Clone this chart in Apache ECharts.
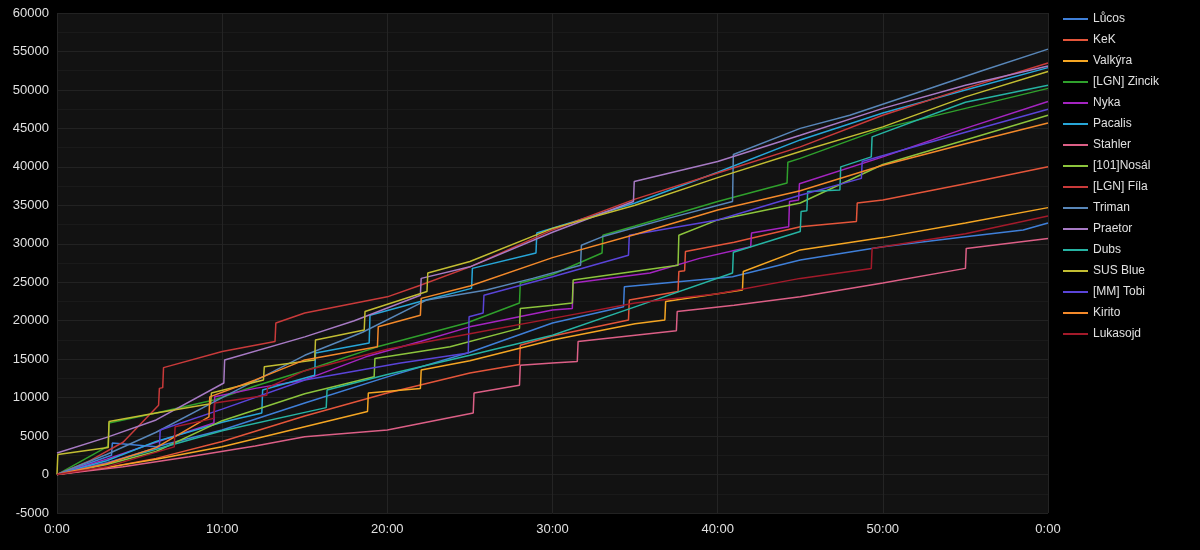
<!DOCTYPE html>
<html>
<head>
<meta charset="utf-8">
<script src="https://cdn.jsdelivr.net/npm/echarts@6/dist/echarts.min.js"></script>
<style>
html,body{margin:0;padding:0;background:#000;}
#chart{width:1200px;height:550px;}
</style>
</head>
<body>
<div id="chart"></div>
<script>
// Player names (legend order) and colours
const names = ["Lůcos","KeK","Valkýra","[LGN] Zincik","Nyka","Pacalis","Stahler","[101]Nosál","[LGN] Fíla","Triman","Praetor","Dubs","SUS Blue","[MM] Tobi","Kirito","Lukasojd"];
const colors = ["#3f7fd8","#e4553a","#f5a623","#2fa02c","#a424c0","#27a6d8","#dc5f86","#8cc43c","#c93a3a","#5886b8","#a77ac4","#26b3a3","#c2bd32","#5a44d8","#f3892a","#a31a2a"];

// [minute, gold]
const lucos = [[0,0],[3.3,2500],[3.35,4100],[6,3600],[10,5800],[15,9300],[20,12700],[25,15900],[30,19700],[34.3,21800],[34.35,24400],[40.9,25700],[45,27900],[50,29600],[55,30900],[58.5,31800],[60,32700]];
const kek = [[0,0],[3,900],[6,2100],[10,4300],[15,7600],[20,10600],[25,13200],[28,14300],[28.05,16800],[30,18000],[34.6,20100],[34.65,22700],[37.6,23800],[37.65,26400],[38,26500],[38.05,29000],[41,30200],[45,32200],[48.4,32900],[48.45,35300],[50,35700],[55,37800],[60,40000]];
const valkyra = [[0,0],[3,900],[6,2000],[10,3600],[15,6200],[18.8,8200],[18.85,10600],[22,11200],[22.05,13600],[25,14800],[30,17500],[35,19600],[36.8,20100],[36.85,22500],[40,23500],[41.5,24000],[41.55,26400],[45,29200],[50,30800],[55,32700],[60,34700]];
const zincik = [[0,0],[3.1,3700],[3.15,6700],[6,8000],[9.5,9700],[12,11500],[15,13500],[19.4,16600],[24.8,19700],[28,22300],[28.05,24900],[30,26000],[33,28800],[33.05,31100],[35,32300],[40,35500],[44.2,37900],[44.25,40600],[45,41100],[50,45000],[55,47600],[60,50200]];
const nyka = [[0,0],[3,2000],[6,4200],[9.5,6700],[9.55,10100],[12,11200],[15,12300],[18.7,15300],[22,17300],[25,19200],[30,21400],[31.2,21600],[31.25,24900],[35.9,26200],[38.9,28100],[42,29600],[42.05,31400],[44.3,32200],[44.35,35500],[44.9,35700],[44.95,37800],[50,41300],[55,45000],[60,48500]];
const pacalis = [[0,0],[3,1800],[6,4300],[10,6800],[12.4,8000],[12.45,11000],[15.6,12900],[15.65,15800],[18.9,17100],[18.95,20700],[22,22500],[25.1,24200],[25.15,26800],[29,28800],[29.05,31400],[35,35300],[40,39300],[45,43500],[50,47000],[55,50000],[60,52900]];
const stahler = [[0,0],[4,1000],[8,2300],[12,3700],[15,4900],[20,5800],[25.2,8000],[25.25,10600],[28,11600],[28.05,14200],[30,14500],[31.5,14700],[31.55,17300],[37.5,18700],[37.55,21200],[41,22000],[45,23100],[50,24900],[55,26800],[55.05,29400],[60,30700]];
const nosal = [[0,0],[3,1300],[6,3000],[10,7000],[15,10500],[19.2,12700],[19.25,15100],[23.8,16600],[28,19000],[28.05,21600],[30,22000],[31.2,22300],[31.25,25300],[37.6,27200],[37.65,31100],[40,33100],[45,35300],[50,40300],[55,43500],[60,46700]];
const fila = [[0,0],[2,1800],[4,4200],[6.15,9000],[6.2,11200],[6.4,11300],[6.45,13900],[10,16000],[13.2,17300],[13.25,19700],[15,21000],[20,23100],[22,24600],[25,27000],[30,31800],[35,35800],[40,39200],[45,42600],[50,46700],[55,50200],[60,53500]];
const triman = [[0,0],[3,2600],[6,5500],[10,10000],[15,15500],[18.5,18500],[22.4,22700],[26,24000],[28.8,25500],[31.7,27200],[31.75,29800],[33,30900],[37,33300],[40.9,35500],[40.95,41600],[45,45000],[48,46700],[52.3,49800],[56,52500],[60,55300]];
const praetor = [[0,2800],[3.1,4900],[6,7100],[10.1,11900],[10.15,14900],[15,17900],[18,20000],[22,23300],[22.05,25500],[25,27000],[30,31500],[34.9,35500],[34.95,38100],[40,40700],[45,44100],[50,47600],[55,50600],[60,53100]];
const dubs = [[0,0],[3,1500],[6,3300],[10,5700],[16.3,8700],[16.35,11000],[20,13000],[25,15500],[30,18100],[35,21800],[40.9,26200],[40.95,28900],[45,31600],[45.05,34200],[45.4,34300],[45.45,36800],[47.4,37000],[47.45,40000],[49.3,41300],[49.35,43900],[55,48400],[60,50600]];
const susBlue = [[0,0],[0.05,2600],[3.1,3500],[3.15,6900],[6,8000],[9.3,9200],[9.35,10600],[12.5,12300],[12.55,14000],[15.6,14900],[15.65,17500],[18.6,18800],[18.65,21200],[22.4,23800],[22.45,26200],[25,27700],[30,32000],[35,35000],[40,38600],[45,42000],[50,45200],[55,49100],[60,52400]];
const tobi = [[0,0],[3,1500],[6.2,3600],[6.25,5800],[10,8500],[15,12300],[20.8,14500],[24.9,15800],[24.95,20500],[25.8,21000],[25.85,23300],[30,25700],[34.6,28500],[34.65,31100],[40,33100],[45,36300],[48.7,38500],[48.75,40700],[55,44500],[60,47500]];
const kirito = [[0,0],[3,1400],[6,3500],[9.2,7500],[9.25,10100],[12,12300],[15,14900],[19.4,16600],[19.45,19200],[22,20700],[22.05,22900],[25,24500],[30,28200],[35,31200],[40,34400],[45,36900],[50,40200],[55,43000],[60,45700]];
const lukasojd = [[0,0],[3,1000],[7.1,3600],[7.15,6200],[9.5,7300],[9.55,9300],[12.7,10300],[12.75,11300],[15,13500],[20,16300],[25,18300],[30,20300],[35,22300],[40,23500],[45,25500],[49.3,26800],[49.35,29400],[55,31300],[60,33600]];

const seriesData = [lucos,kek,valkyra,zincik,nyka,pacalis,stahler,nosal,fila,triman,praetor,dubs,susBlue,tobi,kirito,lukasojd];

const chart = echarts.init(document.getElementById('chart'), null, {renderer:'canvas'});
chart.setOption({
  backgroundColor: '#000',
  animation: false,
  textStyle: {fontFamily: 'Liberation Sans, Arial, sans-serif'},
  grid: {left: 57, right: 152, top: 13, bottom: 37, show: true, backgroundColor: '#121212', borderWidth: 0},
  legend: {
    orient: 'vertical', left: 1058, top: 7,
    itemWidth: 25, itemHeight: 2, itemGap: 7,
    icon: 'rect',
    textStyle: {color: '#e0e0e0', fontSize: 12, lineHeight: 14},
    data: names
  },
  xAxis: {
    type: 'value', min: 0, max: 60, interval: 10,
    axisLine: {show: false}, axisTick: {show: false},
    axisLabel: {color: '#e0e0e0', fontSize: 13, margin: 10, formatter: v => (v % 60) + ':00'},
    splitLine: {show: true, lineStyle: {color: '#242424', width: 1}}
  },
  yAxis: {
    type: 'value', min: -5000, max: 60000, interval: 5000,
    axisLine: {show: false}, axisTick: {show: false},
    axisLabel: {color: '#e0e0e0', fontSize: 13, margin: 8, formatter: v => String(v)},
    splitLine: {show: true, lineStyle: {color: '#222', width: 1}},
    minorTick: {show: false, splitNumber: 2},
    minorSplitLine: {show: true, lineStyle: {color: '#1a1a1a', width: 1}}
  },
  series: names.map((n, i) => ({
    name: n, type: 'line', data: seriesData[i], showSymbol: false, symbol: 'none',
    color: colors[i], lineStyle: {width: 1.5, color: colors[i]}
  }))
});
</script>
</body>
</html>
